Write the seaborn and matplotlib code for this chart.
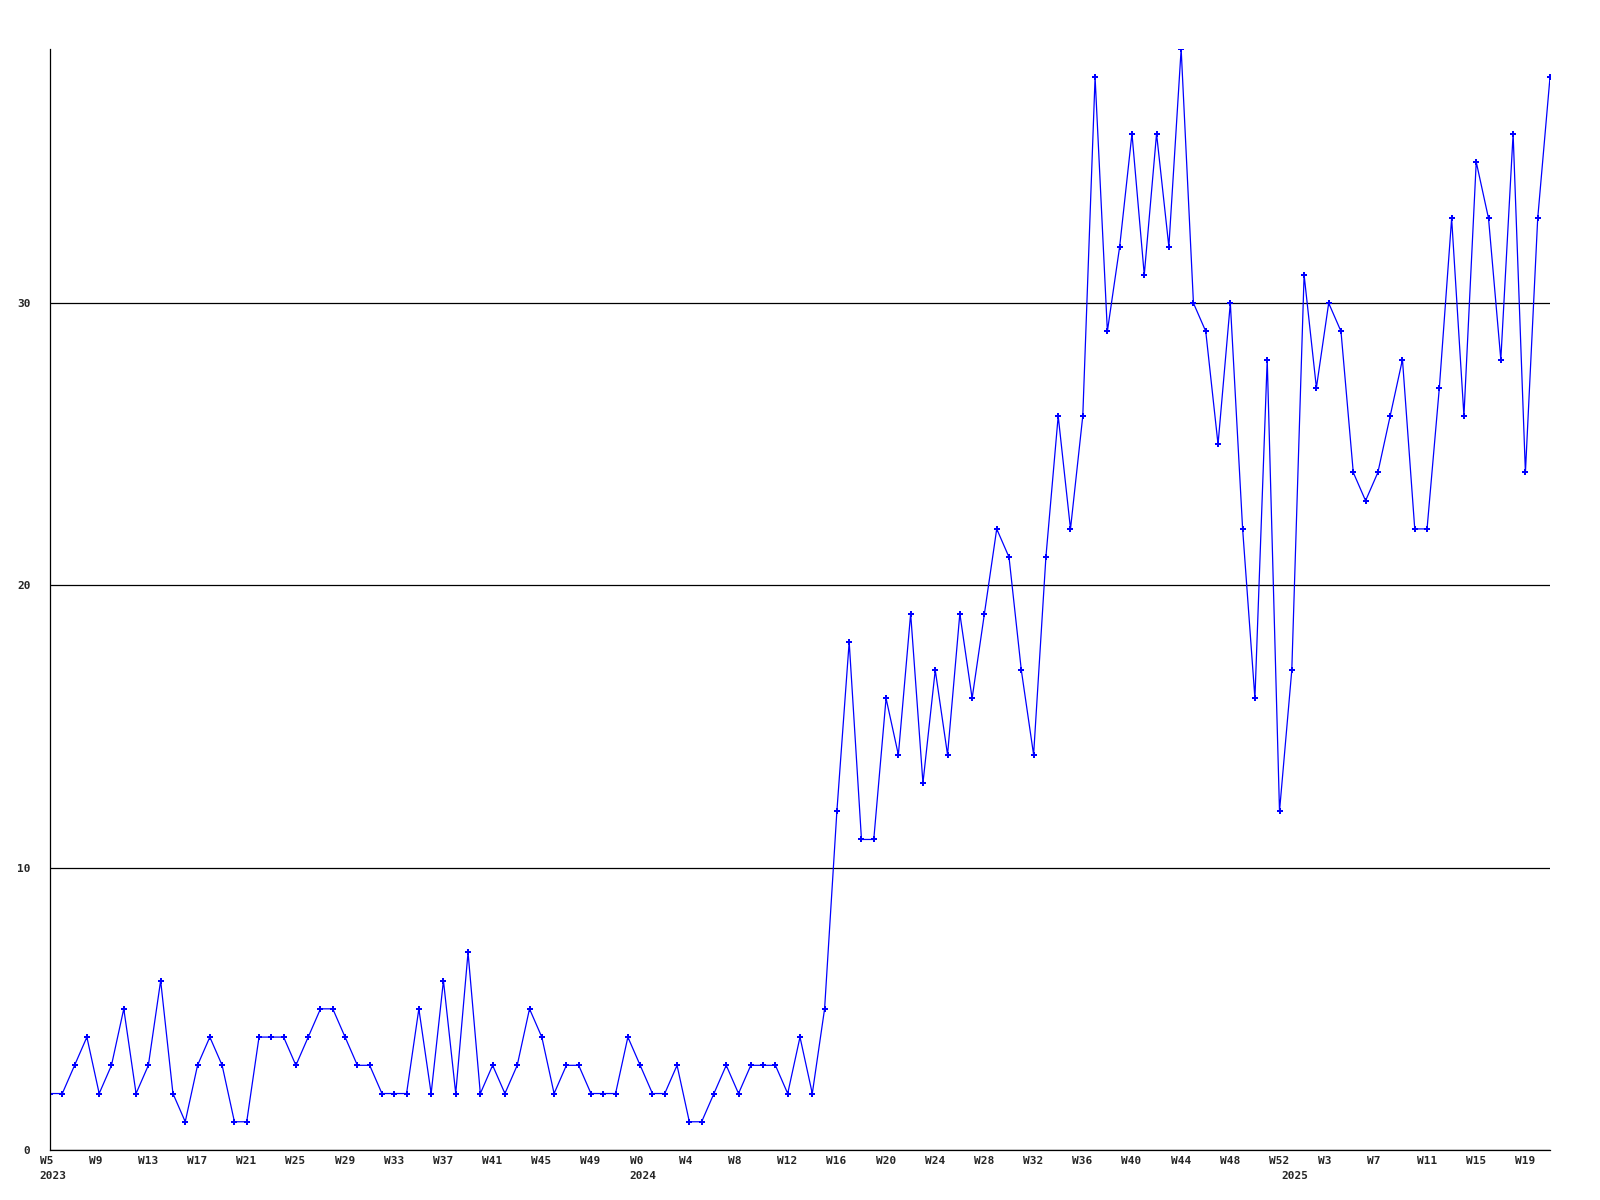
import numpy as np
import pandas as pd
import matplotlib
matplotlib.use("Agg")
import matplotlib.pyplot as plt
import matplotlib.transforms as mtransforms
import seaborn as sns

# === weekly counts ===
weeks_2023 = list(range(5, 53))   # W5 .. W52
counts_2023 = [2, 2, 3, 4, 2, 3, 5, 2, 3, 6,
               2, 1, 3, 4, 3, 1, 1, 4, 4, 4,
               3, 4, 5, 5, 4, 3, 3, 2, 2, 2,
               5, 2, 6, 2, 7, 2, 3, 2, 3, 5,
               4, 2, 3, 3, 2, 2, 2, 4]

weeks_2024 = list(range(0, 53))   # W0 .. W52
counts_2024 = [3, 2,
               2, 3, 1, 1, 2, 3, 2, 3, 3, 3,
               2, 4, 2, 5, 12, 18, 11, 11, 16, 14,
               19, 13, 17, 14, 19, 16, 19, 22, 21, 17,
               14, 21, 26, 22, 26, 38, 29, 32, 36, 31,
               36, 32, 39, 30, 29, 25, 30, 22, 16, 28,
               12]

weeks_2025 = list(range(0, 22))   # W0 .. W21
counts_2025 = [17, 31, 27, 30, 29, 24, 23, 24, 26,
               28, 22, 22, 27, 33, 26, 35, 33, 28, 36,
               24, 33, 38]

years = [2023, 2024, 2025]
y_ticks = [0, 10, 20, 30]

# === build one frame ===
frames = []
for yr, wk, ct in zip(years, [weeks_2023, weeks_2024, weeks_2025],
                      [counts_2023, counts_2024, counts_2025]):
    frames.append(pd.DataFrame({"year": yr, "week": wk, "count": ct}))
df = pd.concat(frames, ignore_index=True)
df["idx"] = np.arange(len(df))

sns.set_style("white")
plt.rcParams["font.family"] = ["DejaVu Sans Mono"]
plt.rcParams["font.weight"] = "bold"
plt.rcParams["font.size"] = 8

fig = plt.figure(figsize=(16, 12), dpi=100)
ax = fig.add_axes([50 / 1600, 50 / 1200, 1500 / 1600, 1101 / 1200])

sns.lineplot(data=df, x="idx", y="count", ax=ax, estimator=None,
             color="#0000ff", lw=0.9, marker="P", markersize=4.2,
             markeredgewidth=0, markerfacecolor="#0000ff")

ax.set_xlim(0, len(df) - 1)
ax.set_ylim(0, 39)
ax.set_xlabel("")
ax.set_ylabel("")

# horizontal grid lines
ax.set_yticks(y_ticks)
ax.set_yticklabels([str(v) for v in y_ticks])
ax.yaxis.grid(True, color="black", lw=0.9)
ax.xaxis.grid(False)
ax.set_axisbelow(True)

for side in ["top", "right"]:
    ax.spines[side].set_visible(False)
for side in ["left", "bottom"]:
    ax.spines[side].set_color("black")
    ax.spines[side].set_linewidth(0.9)

# week labels every 4th point
tick_rows = df.iloc[::4]
ax.set_xticks(tick_rows["idx"])
ax.set_xticklabels([f"W{w}" for w in tick_rows["week"]])
ax.tick_params(axis="both", length=0)
ax.tick_params(axis="x", pad=4)
ax.tick_params(axis="y", pad=14)

shift = mtransforms.ScaledTranslation(-10.5 / 100, 0, fig.dpi_scale_trans)
for lab in ax.get_xticklabels():
    lab.set_horizontalalignment("left")
    lab.set_transform(lab.get_transform() + shift)

# year labels under the first week of each year
year_tr = ax.get_xaxis_transform() + mtransforms.ScaledTranslation(
    -10.5 / 100, -21 / 100, fig.dpi_scale_trans)
for yr in years:
    first = df.loc[df["year"] == yr, "idx"].iloc[0]
    ax.text(first, 0, str(yr), transform=year_tr, ha="left", va="top",
            fontsize=8, fontweight="bold")

fig.savefig("out.png", dpi=100)
plt.close()
